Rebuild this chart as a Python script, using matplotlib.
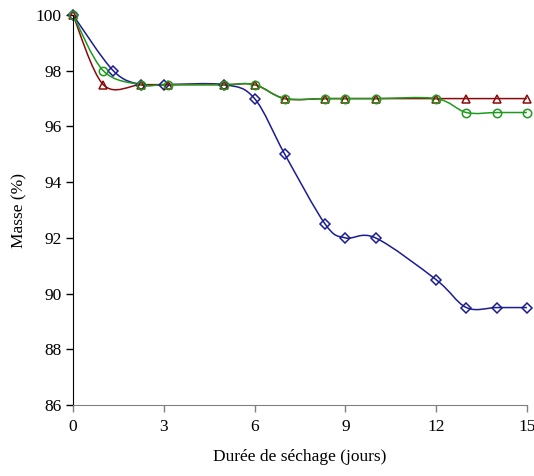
import matplotlib
matplotlib.use("Agg")
import matplotlib.pyplot as plt
import numpy as np
from matplotlib.path import Path
from matplotlib.patches import PathPatch

plt.rcParams['font.family'] = ['Liberation Serif', 'DejaVu Serif']

# durée (jours) et masse (%) pour chaque série
x_blue = [0, 1.33, 2.25, 3, 5, 6, 7, 8.33, 9, 10, 12, 13, 14, 15]
y_blue = [100, 98, 97.5, 97.5, 97.5, 97, 95, 92.5, 92, 92, 90.5, 89.5, 89.5, 89.5]

x_red = [0, 1, 2.25, 3.15, 5, 6, 7, 8.33, 9, 10, 12, 13, 14, 15]
y_red = [100, 97.5, 97.5, 97.5, 97.5, 97.5, 97, 97, 97, 97, 97, 97, 97, 97]

x_green = [0, 1, 2.25, 3.15, 5, 6, 7, 8.33, 9, 10, 12, 13, 14, 15]
y_green = [100, 98, 97.5, 97.5, 97.5, 97.5, 97, 97, 97, 97, 97, 96.5, 96.5, 96.5]

x_ticks = [0, 3, 6, 9, 12, 15]
y_ticks = [86, 88, 90, 92, 94, 96, 98, 100]


def smooth_path(xs, ys):
    # Excel-like smoothed line: cubic Bezier through the points (Catmull-Rom)
    p = np.column_stack([xs, ys]).astype(float)
    ext = np.vstack([p[0], p, p[-1]])
    verts = [p[0]]
    codes = [Path.MOVETO]
    for i in range(len(p) - 1):
        p0, p1, p2, p3 = ext[i], ext[i + 1], ext[i + 2], ext[i + 3]
        c1 = p1 + (p2 - p0) / 6
        c2 = p2 - (p3 - p1) / 6
        verts += [c1, c2, p2]
        codes += [Path.CURVE4] * 3
    return Path(verts, codes)


fig = plt.figure(figsize=(5.34, 4.76), dpi=100)
ax = fig.add_axes([0.1367, 0.149, 0.85, 0.8195])

series = [
    (x_blue, y_blue, '#1c1c94', 'D', 5.0),
    (x_red, y_red, '#8c0a0a', '^', 6.0),
    (x_green, y_green, '#1e9a1e', 'o', 6.0),
]
for xs, ys, col, mk, ms in series:
    ax.add_patch(PathPatch(smooth_path(xs, ys), facecolor='none',
                           edgecolor=col, lw=1.1))
    ax.plot(xs, ys, linestyle='none', marker=mk, ms=ms, mfc='none',
            mec=col, mew=1.1, clip_on=False)

ax.set_xlim(0, 15)
ax.set_ylim(86, 100)
ax.set_xticks(x_ticks)
ax.set_yticks(y_ticks)
ax.spines['top'].set_visible(False)
ax.spines['right'].set_visible(False)
ax.spines['left'].set_color('black')
ax.spines['bottom'].set_color('#808080')
ax.tick_params(direction='out', length=5, width=1, labelsize=12.5, pad=3)
ax.tick_params(axis='x', color='#808080', labelcolor='black', pad=5)

ax.set_xlabel('Durée de séchage (jours)', fontsize=12.5, labelpad=10)
ax.set_ylabel('Masse (%)', fontsize=12.5, labelpad=6)

fig.savefig('out.png', dpi=100)
